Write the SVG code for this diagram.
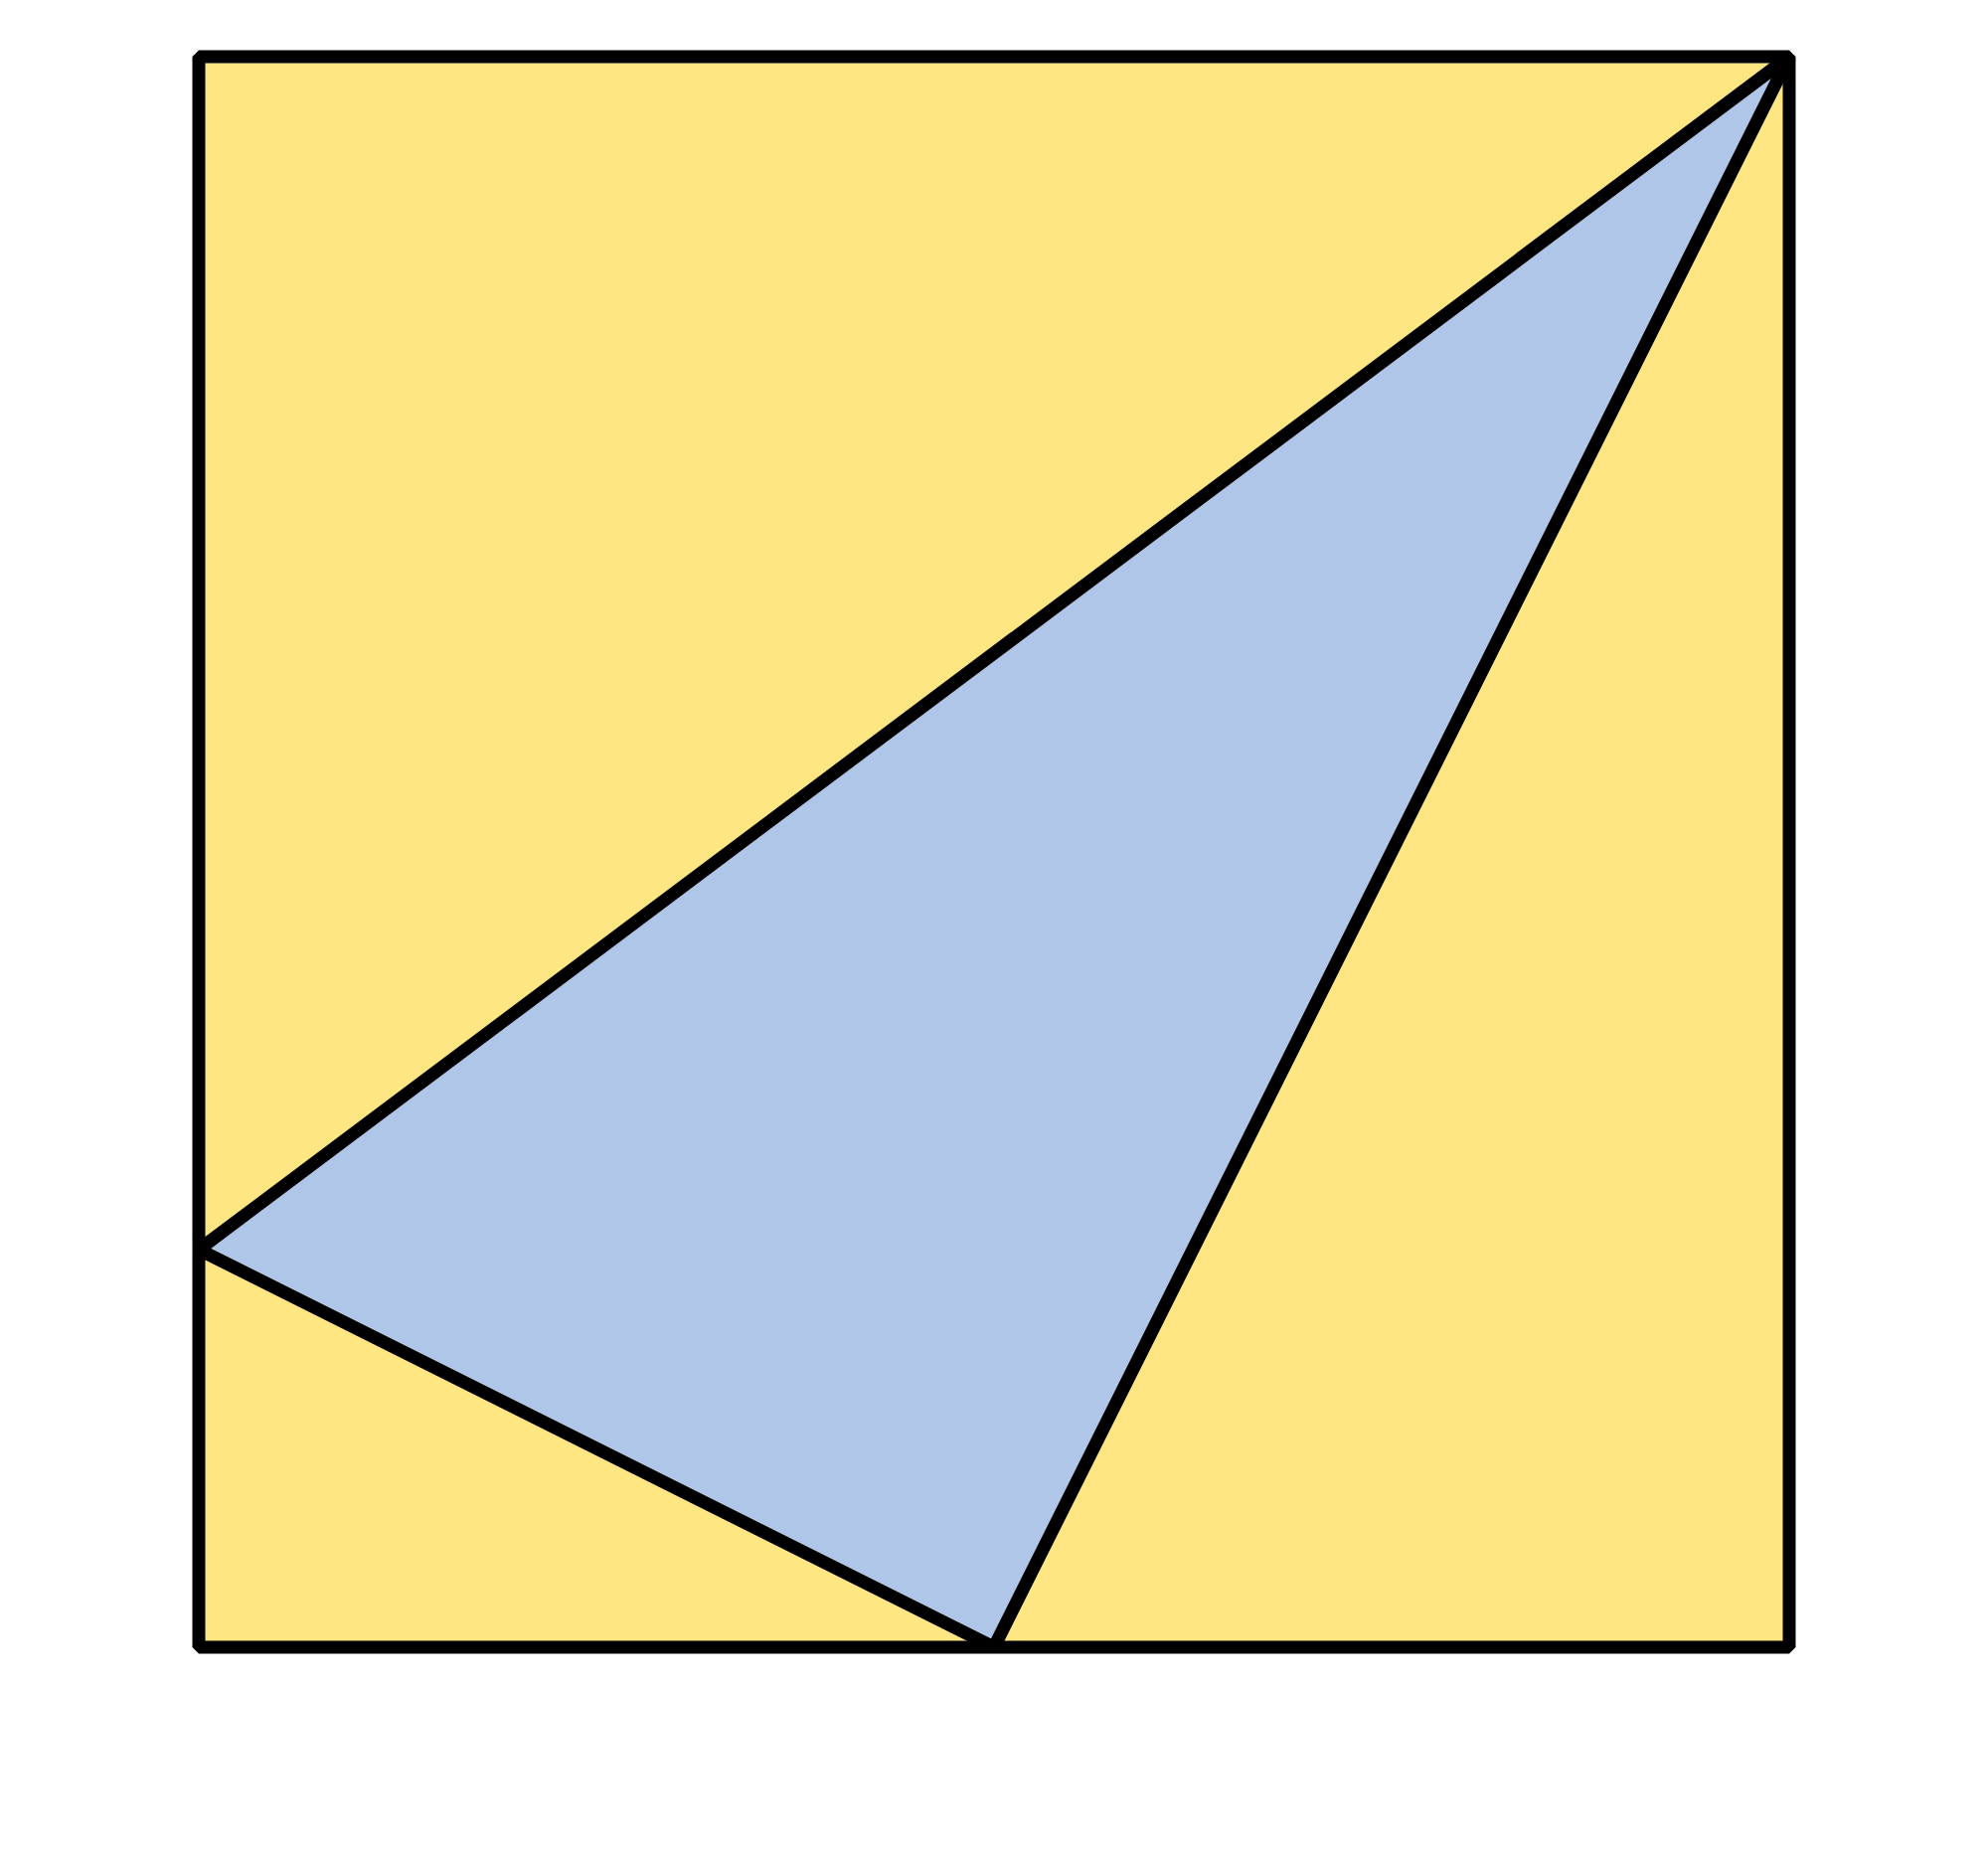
<svg xmlns="http://www.w3.org/2000/svg" width="2000" height="1867" viewBox="0 0 2000 1867">
<style>
.s{stroke:#000;stroke-width:13;stroke-linejoin:bevel}
</style>
<rect width="2000" height="1867" fill="#fff"/>
<g id="square"><rect class="s" x="200" y="57" width="1600" height="1600" fill="#fee682"/></g>
<g id="triangle"><polygon class="s" points="1800,57 200,1257 1000,1657" fill="#b0c6e8"/></g>
</svg>
